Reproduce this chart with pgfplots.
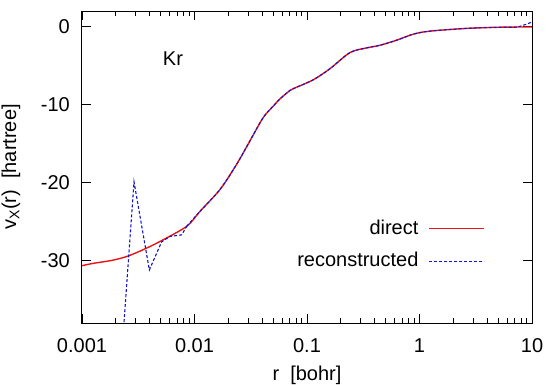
\documentclass[border=0pt]{standalone}
\usepackage{pgfplots}
\pgfplotsset{compat=1.18}
\usepackage{fontspec}
\setmainfont{Liberation Sans}
\definecolor{gpred}{RGB}{235,20,20}
\definecolor{gpblue}{RGB}{20,20,200}
\begin{document}
\fontsize{20}{24}\selectfont
\begin{tikzpicture}
\useasboundingbox (-82pt,-61pt) rectangle (464pt,323pt);
\begin{axis}[
  at={(0pt,0pt)}, anchor=south west,
  scale only axis, width=450pt, height=312pt,
  xmode=log, xmin=0.001, xmax=10, ymin=-38, ymax=2,
  xtick={0.001,0.01,0.1,1,10}, xticklabels={0.001,0.01,0.1,1,10},
  ytick={-30,-20,-10,0}, yticklabels={-30,-20,-10,0},
  tick align=inside, tick pos=both,
  major tick length=9pt, minor tick length=5pt,
  axis line style={line width=1pt},
  every tick/.style={black, line width=0.8pt},
  xticklabel style={anchor=base, yshift=-29.5pt},
  yticklabel style={anchor=east, xshift=-5.3pt},
  xlabel={r\ \ [bohr]},
  ylabel={v\textsubscript{X}(r)\ \ [hartree]},
  xlabel style={at={(axis description cs:0.5,-0.169)}, anchor=center},
  ylabel style={at={(axis description cs:-0.1578,0.5)}, anchor=center},
  legend plot pos=right,
  legend cell align=right,
  legend image code/.code={\path (0pt,0pt); \draw[#1] (8pt,0pt) -- (63pt,0pt);},
  legend style={at={(axis description cs:0.8956,0.25)}, anchor=east, draw=none, fill=none, inner sep=0pt, row sep=11pt},
]
\addplot[gpred, line width=1.4pt, smooth, tension=0.5] coordinates {
  (0.001,-30.65) (0.00126,-30.35) (0.0018,-30.0) (0.00249,-29.48) (0.0035,-28.6)
  (0.00493,-27.55) (0.00853,-25.6) (0.0112,-23.68) (0.01686,-20.88) (0.0237,-17.65)
  (0.0311,-14.65) (0.0409,-11.64) (0.0501,-10.2) (0.0575,-9.27) (0.0706,-8.19)
  (0.0809,-7.77) (0.1137,-6.82) (0.16,-5.4) (0.241,-3.33) (0.339,-2.73)
  (0.446,-2.39) (0.627,-1.74) (0.881,-0.97) (1.238,-0.58) (2.62,-0.23)
  (5.2,-0.08) (10,-0.05)
};
\addlegendentry{direct}
\addplot[gpblue, line width=1.1pt, dash pattern=on 3pt off 2pt] coordinates {
  (0.00223,-43) (0.0029,-19.9) (0.00397,-31.2) (0.0051,-27.6) (0.00605,-26.9)
  (0.00769,-26.7) (0.00853,-25.6)
};
\addlegendentry{reconstructed}
\addplot[gpblue, line width=1.1pt, dash pattern=on 3pt off 2pt, smooth, tension=0.5, forget plot] coordinates {
  (0.00853,-25.6) (0.0112,-23.68) (0.01686,-20.88) (0.0237,-17.65)
  (0.0311,-14.65) (0.0409,-11.64) (0.0501,-10.2) (0.0575,-9.27) (0.0706,-8.19)
  (0.0809,-7.77) (0.1137,-6.82) (0.16,-5.4) (0.241,-3.33) (0.339,-2.73)
  (0.446,-2.39) (0.627,-1.74) (0.881,-0.97) (1.238,-0.58) (2.62,-0.23)
  (5.2,-0.08) (7.5,-0.03) (10,0.6)
};
\node at (axis cs:0.00644,-4.1) {Kr};
\end{axis}
\end{tikzpicture}
\end{document}
